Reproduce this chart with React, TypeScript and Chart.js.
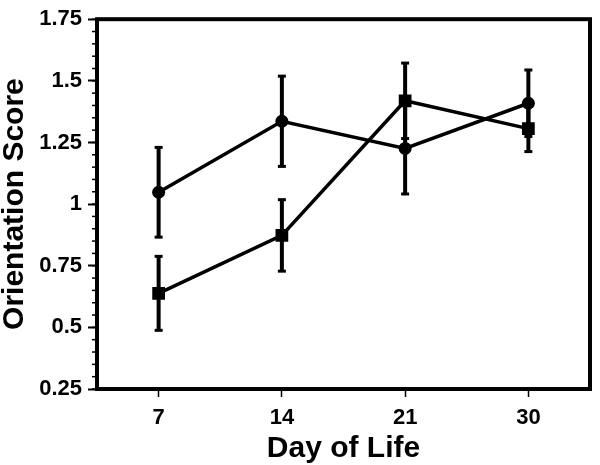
import React, { useEffect, useRef } from "react";
import { Chart, registerables } from "chart.js";

Chart.register(...registerables);

const days = ["7", "14", "21", "30"];
const circleMean = [1.048, 1.336, 1.226, 1.409];
const circleErr = [0.182, 0.183, 0.185, 0.135];
const squareMean = [0.638, 0.873, 1.419, 1.306];
const squareErr = [0.15, 0.145, 0.153, 0.093];
const yMin = 0.25;
const yMax = 1.75;
const yStep = 0.25;
const yMinorStep = 0.05;

const FONT = "'Liberation Sans', Arial, Helvetica, sans-serif";

const errorBarPlugin = {
  id: "errorBars",
  beforeDatasetsDraw(chart: any) {
    const ctx = chart.ctx;
    const xs = chart.scales.x;
    const ys = chart.scales.y;
    ctx.save();
    chart.data.datasets.forEach((ds: any) => {
      const errs: number[] = ds.errors || [];
      ds.data.forEach((v: number, i: number) => {
        const x = xs.getPixelForValue(i);
        const yTop = ys.getPixelForValue(v + errs[i]);
        const yBot = ys.getPixelForValue(v - errs[i]);
        ctx.strokeStyle = "#000";
        ctx.lineWidth = 4;
        ctx.beginPath();
        ctx.moveTo(x, yTop);
        ctx.lineTo(x, yBot);
        ctx.stroke();
        ctx.fillStyle = "#000";
        ctx.fillRect(x - 4, yTop - 1.5, 8, 3);
        ctx.fillRect(x - 4, yBot - 1.5, 8, 3);
      });
    });
    ctx.restore();
  },
};

const framePlugin = {
  id: "frame",
  afterDraw(chart: any) {
    const { ctx, chartArea } = chart;
    const ys = chart.scales.y;
    ctx.save();
    ctx.strokeStyle = "#000";
    ctx.lineWidth = 1.5;
    for (let v = yMin; v <= yMax + 1e-9; v += yMinorStep) {
      const y = ys.getPixelForValue(v);
      ctx.beginPath();
      ctx.moveTo(chartArea.left - 5, y);
      ctx.lineTo(chartArea.left, y);
      ctx.stroke();
    }
    ctx.lineWidth = 4;
    ctx.strokeRect(
      chartArea.left,
      chartArea.top,
      chartArea.right - chartArea.left,
      chartArea.bottom - chartArea.top
    );
    ctx.restore();
  },
};

export default function App() {
  const ref = useRef<HTMLCanvasElement>(null);
  useEffect(() => {
    if (!ref.current) return;
    const chart = new Chart(ref.current, {
      type: "line",
      data: {
        labels: days,
        datasets: [
          {
            label: "circle",
            data: circleMean,
            errors: circleErr,
            borderColor: "#000",
            backgroundColor: "#000",
            borderWidth: 3.5,
            pointStyle: "circle",
            pointRadius: 6.5,
            pointBorderWidth: 0,
            tension: 0,
          } as any,
          {
            label: "square",
            data: squareMean,
            errors: squareErr,
            borderColor: "#000",
            backgroundColor: "#000",
            borderWidth: 3.5,
            pointStyle: "rect",
            pointRadius: 9,
            pointBorderWidth: 0,
            tension: 0,
          } as any,
        ],
      },
      options: {
        animation: false,
        responsive: false,
        maintainAspectRatio: false,
        layout: { padding: { top: 18, right: 10, left: 0, bottom: 0 } },
        plugins: { legend: { display: false }, tooltip: { enabled: false } },
        scales: {
          x: {
            type: "category",
            offset: true,
            afterFit: (s: any) => {
              s.height = 76;
            },
            border: { display: false },
            grid: {
              display: true,
              drawOnChartArea: false,
              drawTicks: true,
              tickLength: 8,
              tickWidth: 1.5,
              color: "#000",
              offset: false,
            },
            ticks: {
              color: "#000",
              padding: 8,
              font: { family: FONT, size: 22, weight: "bold" },
            },
            title: {
              display: true,
              text: "Day of Life",
              color: "#000",
              padding: 0,
              font: { family: FONT, size: 30, weight: "bold", lineHeight: 1.1 },
            },
          },
          y: {
            min: yMin,
            max: yMax,
            afterFit: (s: any) => {
              s.width = 97;
            },
            border: { display: false },
            grid: {
              display: true,
              drawOnChartArea: false,
              drawTicks: true,
              tickLength: 9,
              tickWidth: 2,
              color: "#000",
            },
            ticks: {
              stepSize: yStep,
              color: "#000",
              padding: 6,
              callback: (v: any) => String(Math.round(Number(v) * 100) / 100),
              font: { family: FONT, size: 22, weight: "bold" },
            },
            title: {
              display: true,
              text: "Orientation Score",
              color: "#000",
              padding: 0,
              font: { family: FONT, size: 30, weight: "bold", lineHeight: 1 },
            },
          },
        },
      },
      plugins: [errorBarPlugin, framePlugin],
    } as any);
    return () => chart.destroy();
  }, []);
  return (
    <div style={{ position: "fixed", left: 0, top: 0, width: 600, height: 465, background: "#fff" }}>
      <canvas ref={ref} width={600} height={465} style={{ width: 600, height: 465 }} />
    </div>
  );
}
